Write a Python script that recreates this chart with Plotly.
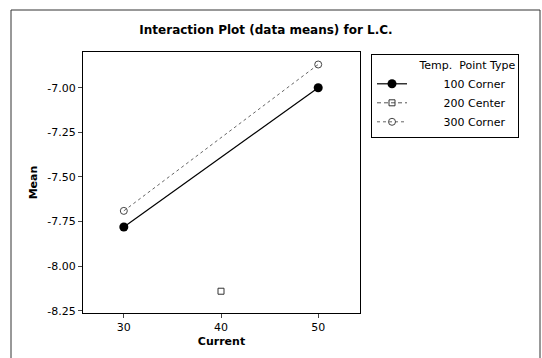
import plotly.graph_objects as go

current = [30, 40, 50]
mean_100_corner = [-7.78, None, -7.00]
mean_200_center = [None, -8.14, None]
mean_300_corner = [-7.69, None, -6.87]
x_ticks = [30, 40, 50]
y_ticks = [-8.25, -8.00, -7.75, -7.50, -7.25, -7.00]
y_tick_labels = ["-8.25", "-8.00", "-7.75", "-7.50", "-7.25", "-7.00"]

W, H = 542, 358
L, R, T, B = 83, 182, 52, 45
pw, ph = W - L - R, H - T - B

font = "DejaVu Sans"
nb = "\u00a0"

fig = go.Figure()
fig.add_trace(go.Scatter(
    x=current, y=mean_100_corner, mode="lines+markers", connectgaps=True,
    name=nb * 9 + "100" + nb + "Corner",
    line=dict(color="black", width=1.2),
    marker=dict(symbol="circle", size=9, color="black"),
))
fig.add_trace(go.Scatter(
    x=current, y=mean_200_center, mode="lines+markers", connectgaps=True,
    name=nb * 9 + "200" + nb + "Center",
    line=dict(color="#555555", width=1, dash="4px,3px"),
    marker=dict(symbol="square-open", size=6, color="#333333", line=dict(width=1)),
))
fig.add_trace(go.Scatter(
    x=current, y=mean_300_corner, mode="lines+markers", connectgaps=True,
    name=nb * 9 + "300" + nb + "Corner",
    line=dict(color="#666666", width=1, dash="3px,3px"),
    marker=dict(symbol="circle-open", size=7, color="#444444", line=dict(width=1)),
))

def px2x(px):
    return (px - L) / pw

def py2y(py):
    return 1 - (py - T) / ph

fig.update_layout(
    width=W, height=H,
    margin=dict(l=L, r=R, t=T, b=B),
    paper_bgcolor="white", plot_bgcolor="white",
    font=dict(family=font, size=11, color="black"),
    title=dict(text="<b>Interaction Plot (data means) for L.C.</b>",
               x=(266) / W, xanchor="center", y=1 - 30 / H, yanchor="middle",
               font=dict(family=font, size=12, color="black")),
    xaxis=dict(range=[25.8, 54.3], tickvals=x_ticks, ticks="outside", ticklen=4,
               showline=True, linecolor="black", linewidth=1, mirror=True,
               showgrid=False, zeroline=False,
               title=dict(text="<b>Current</b>", standoff=4, font=dict(size=11)),
               tickfont=dict(size=11)),
    yaxis=dict(range=[-8.262, -6.80], tickvals=y_ticks, ticktext=y_tick_labels,
               ticks="outside", ticklen=4,
               showline=True, linecolor="black", linewidth=1, mirror=True,
               showgrid=False, zeroline=False,
               title=dict(text="<b>Mean</b>", standoff=7, font=dict(size=11)),
               tickfont=dict(size=11)),
    legend=dict(
        x=px2x(371), y=py2y(54), xanchor="left", yanchor="top",
        bordercolor="black", borderwidth=1, bgcolor="white",
        title=dict(text=nb * 13 + "Temp." + nb * 2 + "Point Type", font=dict(size=11)),
        font=dict(size=11), tracegroupgap=0, itemwidth=30,
    ),
    showlegend=True,
    shapes=[
        dict(type="rect", xref="paper", yref="paper",
             x0=px2x(11), x1=px2x(540), y0=py2y(362), y1=py2y(10),
             line=dict(color="#333333", width=1), layer="below"),
    ],
)

fig.write_html("out.html")
